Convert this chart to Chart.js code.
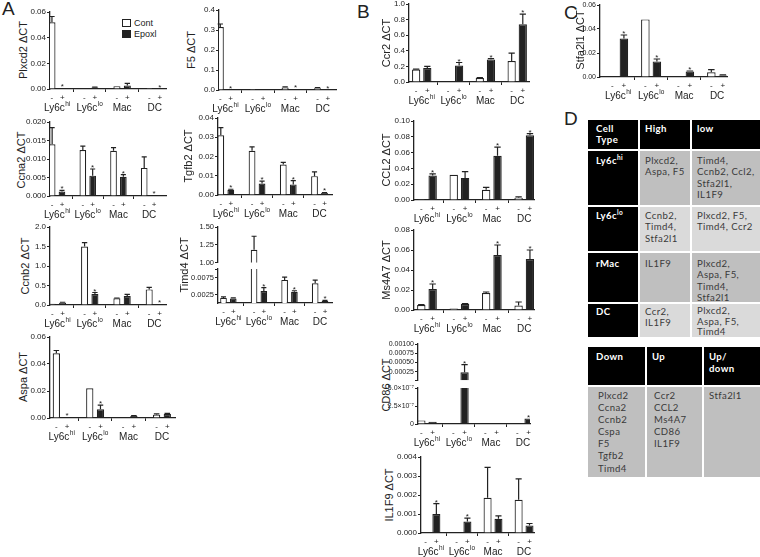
<!DOCTYPE html>
<html>
<head>
<meta charset="utf-8">
<script src="https://cdn.jsdelivr.net/npm/chart.js@4.4.1/dist/chart.umd.min.js"></script>
<style>
  body { margin: 0; width: 760px; height: 557px; position: relative; overflow: hidden; background: #fff;
         font-family: "Liberation Sans", Arial, sans-serif; color: #222; }
  canvas { position: absolute; }
  .ttl { position: absolute; transform: translate(-50%, -50%) rotate(-90deg); white-space: nowrap; font-size: 11px; }
  .letter { position: absolute; font-size: 19px; }
  .lg { position: absolute; font-size: 9px; line-height: 9px; }
  .lg i { display: inline-block; width: 7px; height: 6px; border: 1.2px solid #222; margin-right: 3px; vertical-align: -1px; background: #fff; }
  .lg i.k { background: #222; }
  .tb { position: absolute; display: grid; gap: 2px; font-family: Lato, "Open Sans", sans-serif; font-size: 9.6px;
        letter-spacing: 0.4px; line-height: 11.3px; color: #3a3a3a; }
  .tb div { padding: 3px 0 0 5px; }
  .tb .k { background: #000; color: #fff; font-weight: bold; }
  .tb .k1 { padding-left: 8px; }
  .tb .g1 { background: #bfbfbf; }
  .tb .g2 { background: #dadada; }
  .tb sup { font-size: 6.5px; line-height: 0; }
</style>
</head>
<body>

<div class="letter" style="left:2px;top:-2px">A</div>
<div class="letter" style="left:357px;top:1px">B</div>
<div class="letter" style="left:564px;top:2px">C</div>
<div class="letter" style="left:564px;top:108px">D</div>

<div class="lg" style="left:122px;top:19px"><i></i>Cont</div>
<div class="lg" style="left:122px;top:30px"><i class="k"></i>Epoxl</div>

<div class="tb" style="left:588px;top:120px;grid-template-columns:50px 50px 70px;grid-template-rows:29px 54px 44px 49px 33px">
  <div class="k k1">Cell<br>Type</div><div class="k">High</div><div class="k">low</div>
  <div class="k k1" style="padding-top:4px">Ly6c<sup>hi</sup></div><div class="g1" style="padding-top:4px">Plxcd2,<br>Aspa, F5</div><div class="g1" style="padding-top:4px">Timd4,<br>Ccnb2, Ccl2,<br>Stfa2l1,<br>IL1F9</div>
  <div class="k k1">Ly6c<sup>lo</sup></div><div class="g2">Ccnb2,<br>Timd4,<br>Stfa2l1</div><div class="g2">Plxcd2, F5,<br>Timd4, Ccr2</div>
  <div class="k k1" style="padding-top:5px">rMac</div><div class="g1" style="padding-top:5px">IL1F9</div><div class="g1" style="padding-top:5px">Plxcd2,<br>Aspa, F5,<br>Timd4,<br>Stfa2l1</div>
  <div class="k k1" style="padding-top:2px">DC</div><div class="g2" style="padding-top:2px">Ccr2,<br>IL1F9</div><div class="g2" style="padding-top:2px;line-height:10.6px">Plxcd2,<br>Aspa, F5,<br>Timd4</div>
</div>

<div class="tb" style="left:588px;top:347px;grid-template-columns:57px 55px 57px;grid-template-rows:38px 90px;line-height:12.1px">
  <div class="k k1" style="padding-top:4px">Down</div><div class="k" style="padding-top:4px">Up</div><div class="k" style="padding-top:4px">Up/<br>down</div>
  <div class="g1 k1" style="padding-left:10px">Plxcd2<br>Ccna2<br>Ccnb2<br>Cspa<br>F5<br>Tgfb2<br>Timd4</div>
  <div class="g1" style="padding-left:7px">Ccr2<br>CCL2<br>Ms4A7<br>CD86<br>IL1F9</div>
  <div class="g1">Stfa2l1</div>
</div>

<script>
// categories
const cellTypes = ['Ly6c', 'Ly6c', 'Mac', 'DC'];
const cellSup = ['hi', 'lo', '', ''];
const treatment = ['-', '+'];

// A: Plxcd2
const plxcd2Cont = [0.052, 0.0003, 0.0022, 0.0008];
const plxcd2ContErr = [0.0565, null, null, null];
const plxcd2Epox = [0.0004, 0.0012, 0.0028, 0.0003];
const plxcd2EpoxErr = [null, 0.0015, 0.0044, null];
const plxcd2Stars = [1, 0, 0, 1];
const plxcd2Ticks = [0, 0.02, 0.04, 0.06];

// A: F5
const f5Cont = [0.315, 0.005, 0.013, 0.009];
const f5ContErr = [0.33, null, 0.016, 0.012];
const f5Epox = [0.001, 0.003, 0.003, 0.002];
const f5EpoxErr = [null, null, null, null];
const f5Stars = [1, 0, 1, 1];
const f5Ticks = [0, 0.1, 0.2, 0.3, 0.4];

// A: Ccna2
const ccna2Cont = [0.014, 0.0124, 0.0122, 0.0076];
const ccna2ContErr = [0.0185, 0.0135, 0.0131, 0.0106];
const ccna2Epox = [0.0012, 0.0055, 0.0052, 0.0003];
const ccna2EpoxErr = [0.0015, 0.0073, 0.0058, null];
const ccna2Stars = [1, 1, 1, 1];
const ccna2Ticks = [0, 0.005, 0.01, 0.015, 0.02];

// A: Tgfb2
const tgfb2Cont = [0.031, 0.023, 0.0158, 0.0098];
const tgfb2ContErr = [0.035, 0.025, 0.017, 0.012];
const tgfb2Epox = [0.0027, 0.006, 0.0055, 0.001];
const tgfb2EpoxErr = [0.003, 0.0072, 0.0075, 0.0013];
const tgfb2Stars = [1, 1, 1, 1];
const tgfb2Ticks = [0, 0.01, 0.02, 0.03, 0.04];

// A: Ccnb2
const ccnb2Cont = [0.03, 1.5, 0.17, 0.4];
const ccnb2ContErr = [null, 1.6, 0.18, 0.45];
const ccnb2Epox = [0.06, 0.28, 0.23, 0.02];
const ccnb2EpoxErr = [0.07, 0.32, 0.27, null];
const ccnb2Stars = [0, 1, 0, 1];
const ccnb2Ticks = [0, 0.5, 1, 1.5, 2];

// A: Timd4 (broken axis)
const timd4Cont = [0.0015, 1.18, 0.0068, 0.0058];
const timd4ContErr = [0.0018, 1.37, 0.0076, 0.0067];
const timd4Epox = [0.0013, 0.0035, 0.0033, 0.0006];
const timd4EpoxErr = [0.0015, 0.0045, 0.0036, 0.0008];
const timd4Stars = [0, 1, 1, 1];
const timd4HighTicks = [1, 1.25, 1.5];
const timd4LowTicks = [0.0025, 0.0075, 0.01];
const timd4LowTickLabels = ['0.0025', '0.0075', ''];

// A: Aspa
const aspaCont = [0.048, 0.022, 0.0005, 0.0025];
const aspaContErr = [0.05, null, null, 0.003];
const aspaEpox = [0.0008, 0.0065, 0.0015, 0.003];
const aspaEpoxErr = [null, 0.0095, 0.0018, 0.0035];
const aspaStars = [1, 1, 0, 0];
const aspaTicks = [0, 0.02, 0.04, 0.06];

// B: Ccr2
const ccr2Cont = [0.16, 0.008, 0.05, 0.27];
const ccr2ContErr = [0.165, null, 0.055, 0.37];
const ccr2Epox = [0.18, 0.21, 0.29, 0.74];
const ccr2EpoxErr = [0.2, 0.25, 0.3, 0.87];
const ccr2Stars = [0, 1, 1, 1];
const ccr2Ticks = [0, 0.2, 0.4, 0.6, 0.8, 1];

// B: CCL2
const ccl2Cont = [0.001, 0.032, 0.013, 0.003];
const ccl2ContErr = [null, null, 0.016, 0.004];
const ccl2Epox = [0.031, 0.028, 0.056, 0.082];
const ccl2EpoxErr = [0.033, 0.036, 0.067, 0.084];
const ccl2Stars = [1, 0, 1, 1];
const ccl2Ticks = [0, 0.02, 0.04, 0.06, 0.08, 0.1];

// B: Ms4A7
const ms4a7Cont = [0.005, 0.0015, 0.017, 0.0045];
const ms4a7ContErr = [0.0055, null, 0.018, 0.008];
const ms4a7Epox = [0.021, 0.006, 0.055, 0.051];
const ms4a7EpoxErr = [0.026, 0.0065, 0.065, 0.06];
const ms4a7Stars = [1, 0, 1, 1];
const ms4a7Ticks = [0, 0.02, 0.04, 0.06, 0.08];

// B: CD86 (broken axis)
const cd86Cont = [5e-8, 0, 1e-8, 5e-9];
const cd86ContErr = [null, null, null, null];
const cd86Epox = [3e-8, 0.00023, 1e-8, 7.5e-8];
const cd86EpoxErr = [null, 0.00044, null, null];
const cd86Stars = [0, 1, 0, 1];
const cd86HighTicks = [0, 0.00025, 0.0005, 0.00075, 0.001];
const cd86HighTickLabels = ['', '0.00025', '0.00050', '0.00075', '0.00100'];
const cd86LowTicks = [0, 2.5e-7, 5e-7];
const cd86LowTickLabels = ['0', '2.5×10⁻⁷', '5.0×10⁻⁷'];

// B: IL1F9
const il1f9Cont = [0.00002, 0, 0.00185, 0.00175];
const il1f9ContErr = [null, null, 0.00345, 0.00285];
const il1f9Epox = [0.001, 0.0006, 0.00075, 0.0004];
const il1f9EpoxErr = [0.00155, 0.00078, 0.0009, 0.0005];
const il1f9Stars = [1, 1, 0, 0];
const il1f9Ticks = [0, 0.001, 0.002, 0.003, 0.004];

// C: Stfa2l1
const stfa2l1Cont = [0.0003, 0.048, 0.0005, 0.004];
const stfa2l1ContErr = [null, null, null, 0.0062];
const stfa2l1Epox = [0.032, 0.013, 0.0045, 0.0012];
const stfa2l1EpoxErr = [0.035, 0.015, 0.005, 0.0017];
const stfa2l1Stars = [1, 1, 1, 0];
const stfa2l1Ticks = [0, 0.02, 0.04, 0.06];

const INK = '#222';
const FONT = '"Liberation Sans", Arial, sans-serif';
const narrow = { cat: 0.64, bar: 0.68 };
const wide = { cat: 0.7, bar: 0.74 };

// error bars, stars and the two-row x labels
const prismPlugin = {
  id: 'prism',
  afterDatasetsDraw(chart, args, opts) {
    const ctx = chart.ctx;
    const yScale = chart.scales.y;
    const lo = opts.lo == null ? -Infinity : opts.lo;
    const hi = opts.hi == null ? Infinity : opts.hi;
    ctx.save();
    ctx.strokeStyle = INK;
    ctx.fillStyle = INK;
    ctx.lineWidth = 1.2;
    ctx.textAlign = 'center';
    ctx.textBaseline = 'alphabetic';
    chart.data.datasets.forEach((ds, di) => {
      chart.getDatasetMeta(di).data.forEach((bar, i) => {
        const v = ds.data[i].y;
        if (v < lo || v > hi) return;
        let top = bar.y;
        const e = ds.errors[i];
        if (e != null) {
          const ey = yScale.getPixelForValue(e);
          const half = bar.width * 0.38;
          ctx.beginPath();
          ctx.moveTo(bar.x, top);
          ctx.lineTo(bar.x, ey);
          ctx.moveTo(bar.x - half, ey);
          ctx.lineTo(bar.x + half, ey);
          ctx.stroke();
          top = ey;
        }
        if (ds.stars && ds.stars[i]) {
          ctx.font = '8px ' + FONT;
          ctx.fillText('*', bar.x, top + 1);
        }
      });
    });
    if (opts.labels) {
      const b = chart.chartArea.bottom;
      ctx.font = '8px ' + FONT;
      chart.data.datasets.forEach((ds, di) => {
        chart.getDatasetMeta(di).data.forEach(bar => ctx.fillText(treatment[di], bar.x, b + 10.5));
      });
      const m0 = chart.getDatasetMeta(0).data, m1 = chart.getDatasetMeta(1).data;
      cellTypes.forEach((name, i) => {
        const cx = (m0[i].x + m1[i].x) / 2;
        ctx.font = '10px ' + FONT;
        const w1 = ctx.measureText(name).width;
        ctx.font = '6.5px ' + FONT;
        const w2 = cellSup[i] ? ctx.measureText(cellSup[i]).width + 0.5 : 0;
        const x0 = cx - (w1 + w2) / 2;
        ctx.textAlign = 'left';
        ctx.font = '10px ' + FONT;
        ctx.fillText(name, x0, b + 21.5);
        if (cellSup[i]) {
          ctx.font = '6.5px ' + FONT;
          ctx.fillText(cellSup[i], x0 + w1 + 0.5, b + 17);
        }
        ctx.textAlign = 'center';
      });
    }
    ctx.restore();
  }
};

const toPoints = vals => vals.map((v, i) => ({ x: i, y: v }));

const specs = [
  { title: 'Plxcd2 ΔCT', tx: 23, ty: 50, x: [-0.22, 3.35], p: narrow,
    cont: plxcd2Cont, contErr: plxcd2ContErr, epox: plxcd2Epox, epoxErr: plxcd2EpoxErr, stars: plxcd2Stars,
    segs: [{ l: 50, t: 12, r: 166, b: 89.3, max: 0.06, ticks: plxcd2Ticks, dec: 2, labels: true }] },
  { title: 'F5 ΔCT', tx: 191, ty: 50, x: [-0.2, 3.41], p: narrow,
    cont: f5Cont, contErr: f5ContErr, epox: f5Epox, epoxErr: f5EpoxErr, stars: f5Stars,
    segs: [{ l: 219, t: 9.5, r: 336, b: 89.3, max: 0.4, ticks: f5Ticks, dec: 1, labels: true }] },
  { title: 'Ccna2 ΔCT', tx: 21, ty: 160, x: [-0.23, 3.55], p: narrow,
    cont: ccna2Cont, contErr: ccna2ContErr, epox: ccna2Epox, epoxErr: ccna2EpoxErr, stars: ccna2Stars,
    segs: [{ l: 50, t: 122.3, r: 166, b: 196.3, max: 0.02, ticks: ccna2Ticks, dec: 3, labels: true }] },
  { title: 'Tgfb2 ΔCT', tx: 188, ty: 156, x: [-0.25, 3.4], p: narrow,
    cont: tgfb2Cont, contErr: tgfb2ContErr, epox: tgfb2Epox, epoxErr: tgfb2EpoxErr, stars: tgfb2Stars,
    segs: [{ l: 218, t: 117.5, r: 332, b: 194, max: 0.04, ticks: tgfb2Ticks, dec: 2, labels: true }] },
  { title: 'Ccnb2 ΔCT', tx: 25, ty: 266, x: [-0.23, 3.36], p: narrow,
    cont: ccnb2Cont, contErr: ccnb2ContErr, epox: ccnb2Epox, epoxErr: ccnb2EpoxErr, stars: ccnb2Stars,
    segs: [{ l: 50, t: 227, r: 166, b: 305, max: 2, ticks: ccnb2Ticks, dec: 1, labels: true }] },
  { title: 'Timd4 ΔCT', tx: 184, ty: 265, x: [-0.34, 3.39], p: narrow,
    cont: timd4Cont, contErr: timd4ContErr, epox: timd4Epox, epoxErr: timd4EpoxErr, stars: timd4Stars,
    segs: [{ l: 218, t: 227, r: 332, b: 263, min: 1, max: 1.5, ticks: timd4HighTicks, dec: 2, lo: 0.01, fs: 7.5 },
           { l: 218, t: 269, r: 332, b: 303, min: 0, max: 0.01, ticks: timd4LowTicks, tickLabels: timd4LowTickLabels, hi: 0.01, labels: true, fs: 7.5 }] },
  { title: 'Aspa ΔCT', tx: 23, ty: 377, x: [-0.35, 3.39], p: narrow,
    cont: aspaCont, contErr: aspaContErr, epox: aspaEpox, epoxErr: aspaEpoxErr, stars: aspaStars,
    segs: [{ l: 50, t: 337, r: 175, b: 417.7, max: 0.06, ticks: aspaTicks, dec: 2, labels: true }] },
  { title: 'Ccr2 ΔCT', tx: 386, ty: 43, x: [-0.4, 3.37], p: wide,
    cont: ccr2Cont, contErr: ccr2ContErr, epox: ccr2Epox, epoxErr: ccr2EpoxErr, stars: ccr2Stars,
    segs: [{ l: 409, t: 4.3, r: 529, b: 82.7, max: 1, ticks: ccr2Ticks, dec: 1, labels: true }] },
  { title: 'CCL2 ΔCT', tx: 386, ty: 160, x: [-0.4, 3.3], p: wide,
    cont: ccl2Cont, contErr: ccl2ContErr, epox: ccl2Epox, epoxErr: ccl2EpoxErr, stars: ccl2Stars,
    segs: [{ l: 414, t: 120.5, r: 534, b: 199, max: 0.1, ticks: ccl2Ticks, dec: 2, labels: true }] },
  { title: 'Ms4A7 ΔCT', tx: 386, ty: 270, x: [-0.4, 3.3], p: wide,
    cont: ms4a7Cont, contErr: ms4a7ContErr, epox: ms4a7Epox, epoxErr: ms4a7EpoxErr, stars: ms4a7Stars,
    segs: [{ l: 414, t: 230, r: 534, b: 309.5, max: 0.08, ticks: ms4a7Ticks, dec: 2, labels: true }] },
  { title: 'CD86 ΔCT', tx: 386, ty: 385, x: [-0.28, 3.22], p: wide,
    cont: cd86Cont, contErr: cd86ContErr, epox: cd86Epox, epoxErr: cd86EpoxErr, stars: cd86Stars,
    segs: [{ l: 418, t: 344, r: 530, b: 381, min: 0, max: 0.001, ticks: cd86HighTicks, tickLabels: cd86HighTickLabels, lo: 5e-7, fs: 7 },
           { l: 418, t: 388, r: 530, b: 423.5, min: 0, max: 5e-7, ticks: cd86LowTicks, tickLabels: cd86LowTickLabels, hi: 5e-7, labels: true, fs: 7 }] },
  { title: 'IL1F9 ΔCT', tx: 389, ty: 495, x: [-0.32, 3.32], p: wide,
    cont: il1f9Cont, contErr: il1f9ContErr, epox: il1f9Epox, epoxErr: il1f9EpoxErr, stars: il1f9Stars,
    segs: [{ l: 420.5, t: 456.7, r: 533, b: 532.3, max: 0.004, ticks: il1f9Ticks, dec: 3, labels: true }] },
  { title: 'Stfa2l1 ΔCT', tx: 580, ty: 40, x: [-0.55, 3.3], p: wide,
    cont: stfa2l1Cont, contErr: stfa2l1ContErr, epox: stfa2l1Epox, epoxErr: stfa2l1EpoxErr, stars: stfa2l1Stars,
    segs: [{ l: 600, t: 5, r: 727, b: 77.3, max: 0.06, ticks: stfa2l1Ticks, dec: 2, labels: true, fs: 7 }] },
];

function addSegment(spec, seg) {
  const padT = 8, padR = 4, yw = 50;
  const xh = seg.labels ? 28 : 0;
  const padB = seg.labels ? 0 : 5;
  const w = Math.round(seg.r - seg.l + yw + padR);
  const h = Math.round(seg.b - seg.t + padT + xh + padB);
  const canvas = document.createElement('canvas');
  canvas.width = w;
  canvas.height = h;
  canvas.style.left = (seg.l - yw) + 'px';
  canvas.style.top = (seg.t - padT) + 'px';
  document.body.appendChild(canvas);

  // bars that belong to the lower half of a broken axis are not drawn in the upper half
  const hidden = c => seg.lo != null && c.raw && c.raw.y < seg.lo;
  const fill = col => c => hidden(c) ? 'rgba(0,0,0,0)' : col;

  new Chart(canvas, {
    type: 'bar',
    data: {
      datasets: [
        { label: 'Cont', data: toPoints(spec.cont), errors: spec.contErr, backgroundColor: fill('#fff'),
          borderColor: fill(INK), borderWidth: 1.2, clip: 0, categoryPercentage: spec.p.cat, barPercentage: spec.p.bar },
        { label: 'Epoxl', data: toPoints(spec.epox), errors: spec.epoxErr, stars: spec.stars, backgroundColor: fill(INK),
          borderColor: fill(INK), borderWidth: 1.2, clip: 0, categoryPercentage: spec.p.cat, barPercentage: spec.p.bar },
      ],
    },
    options: {
      responsive: false,
      animation: false,
      devicePixelRatio: 1,
      layout: { padding: { top: padT, right: padR, bottom: padB, left: 0 } },
      plugins: {
        legend: { display: false },
        tooltip: { enabled: false },
        prism: { lo: seg.lo, hi: seg.hi, labels: seg.labels },
      },
      scales: {
        x: {
          type: 'linear', min: spec.x[0], max: spec.x[1], offset: false, display: !!seg.labels,
          afterBuildTicks: s => { s.ticks = [0.5, 1.5, 2.5].map(v => ({ value: v })); },
          afterFit: s => { s.height = xh; },
          ticks: { display: false },
          grid: { offset: false, drawOnChartArea: false, tickLength: 3, color: INK, lineWidth: 1 },
          border: { color: INK, width: 1.3 },
        },
        y: {
          min: seg.min == null ? 0 : seg.min, max: seg.max,
          afterBuildTicks: s => { s.ticks = seg.ticks.map(v => ({ value: v })); },
          afterFit: s => { s.width = yw; },
          ticks: {
            autoSkip: false, padding: 1, color: INK, font: { size: seg.fs || 8, family: FONT },
            callback: (v, i) => seg.tickLabels ? seg.tickLabels[i] : v.toFixed(seg.dec),
          },
          grid: { drawOnChartArea: false, tickLength: 3, color: INK, lineWidth: 1 },
          border: { color: INK, width: 1.3 },
        },
      },
    },
    plugins: [prismPlugin],
  });
}

specs.forEach(spec => {
  const t = document.createElement('div');
  t.className = 'ttl';
  t.textContent = spec.title;
  t.style.left = spec.tx + 'px';
  t.style.top = spec.ty + 'px';
  document.body.appendChild(t);
  spec.segs.forEach(seg => addSegment(spec, seg));
});
</script>
</body>
</html>
